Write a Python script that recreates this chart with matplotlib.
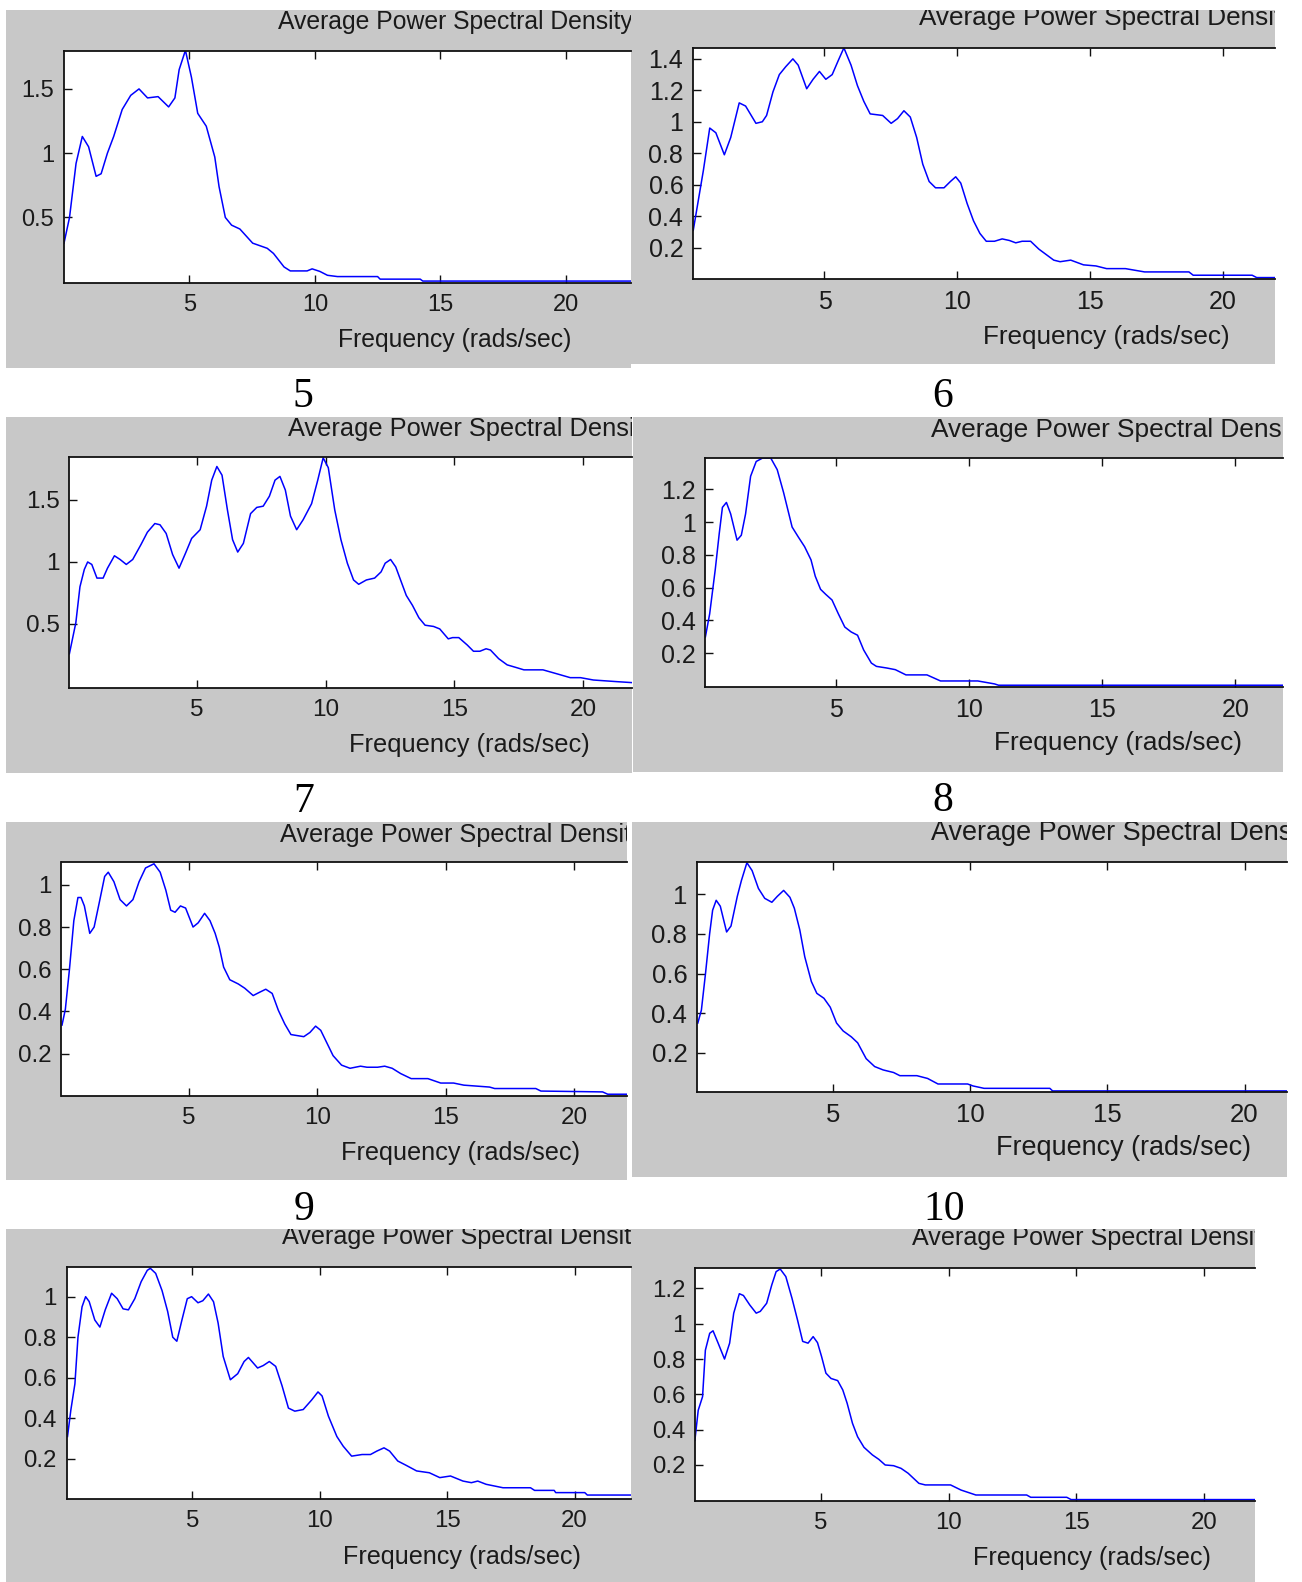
import matplotlib
matplotlib.use("Agg")
import matplotlib.pyplot as plt
from matplotlib.ticker import FixedLocator, FuncFormatter

# ---------------- data ----------------
freq_5 = [0, 0.22, 0.48, 0.73, 0.98, 1.28, 1.48, 1.73, 1.98, 2.32, 2.66, 2.99, 3.33, 3.75, 4.17, 4.42,
          4.59, 4.84, 5.08, 5.33, 5.67, 6.01, 6.18, 6.43, 6.68, 7.01, 7.52, 8.1, 8.35, 8.77, 9.02, 9.69,
          9.89, 10.2, 10.5, 10.9, 12.5, 12.6, 14.2, 14.3, 22.6]
psd_5 = [0.30, 0.50, 0.92, 1.13, 1.05, 0.82, 0.84, 1.0, 1.13, 1.34, 1.45, 1.50, 1.43, 1.44, 1.36, 1.43,
         1.65, 1.80, 1.59, 1.31, 1.21, 0.97, 0.74, 0.50, 0.44, 0.41, 0.30, 0.26, 0.22, 0.115, 0.084, 0.084,
         0.10, 0.08, 0.05, 0.04, 0.04, 0.02, 0.02, 0.005, 0.005]

freq_6 = [0.06, 0.17, 0.44, 0.68, 0.91, 1.23, 1.47, 1.79, 2.03, 2.42, 2.66, 2.82, 3.06, 3.30, 3.54, 3.81,
          4.01, 4.33, 4.57, 4.81, 5.05, 5.29, 5.52, 5.73, 6.00, 6.24, 6.48, 6.72, 7.19, 7.51, 7.75, 7.99,
          8.23, 8.47, 8.70, 8.94, 9.18, 9.50, 9.74, 9.94, 10.13, 10.37, 10.61, 10.85, 11.09, 11.40, 11.69,
          11.96, 12.20, 12.44, 12.76, 13.07, 13.31, 13.63, 13.87, 14.27, 14.75, 15.22, 15.62, 16.33, 17.05,
          18.72, 18.88, 21.1, 21.27, 21.96]
psd_6 = [0.31, 0.42, 0.69, 0.96, 0.93, 0.79, 0.90, 1.12, 1.10, 0.99, 1.0, 1.04, 1.19, 1.30, 1.35, 1.40,
         1.36, 1.21, 1.27, 1.32, 1.27, 1.30, 1.39, 1.47, 1.36, 1.23, 1.13, 1.05, 1.04, 0.99, 1.02, 1.07,
         1.03, 0.90, 0.73, 0.62, 0.58, 0.58, 0.62, 0.65, 0.61, 0.48, 0.37, 0.29, 0.24, 0.24, 0.255,
         0.245, 0.23, 0.24, 0.24, 0.19, 0.16, 0.12, 0.11, 0.12, 0.09, 0.083, 0.066, 0.066, 0.045,
         0.045, 0.024, 0.024, 0.009, 0.009]

freq_7 = [0.04, 0.29, 0.45, 0.62, 0.75, 0.91, 1.11, 1.35, 1.52, 1.79, 2.01, 2.25, 2.50, 2.82, 3.07, 3.36,
          3.56, 3.80, 4.05, 4.30, 4.55, 4.79, 5.12, 5.37, 5.57, 5.77, 5.97, 6.18, 6.38, 6.58, 6.80, 7.08,
          7.32, 7.57, 7.81, 8.03, 8.22, 8.43, 8.63, 8.87, 9.12, 9.45, 9.69, 9.90, 10.10, 10.35, 10.59,
          10.84, 11.08, 11.28, 11.58, 11.9, 12.15, 12.31, 12.52, 12.72, 12.88, 13.13, 13.37, 13.62, 13.86,
          14.19, 14.43, 14.76, 14.93, 15.17, 15.5, 15.74, 15.99, 16.23, 16.4, 16.72, 17.05, 17.38, 17.7,
          18.44, 19.0, 19.5, 19.9, 20.4, 21.3, 21.9]
psd_7 = [0.26, 0.51, 0.80, 0.94, 1.00, 0.98, 0.87, 0.87, 0.95, 1.05, 1.02, 0.98, 1.02, 1.14, 1.24, 1.31,
         1.30, 1.23, 1.06, 0.95, 1.07, 1.19, 1.26, 1.45, 1.66, 1.77, 1.70, 1.42, 1.18, 1.08, 1.15, 1.39,
         1.44, 1.45, 1.53, 1.66, 1.69, 1.58, 1.37, 1.26, 1.34, 1.47, 1.66, 1.84, 1.76, 1.42, 1.18,
         0.99, 0.855, 0.82, 0.855, 0.87, 0.92, 0.99, 1.02, 0.96, 0.87, 0.73, 0.65, 0.55, 0.49,
         0.48, 0.46, 0.38, 0.39, 0.39, 0.33, 0.28, 0.28, 0.30, 0.29, 0.22, 0.17, 0.15, 0.13,
         0.13, 0.097, 0.067, 0.067, 0.048, 0.035, 0.027]

freq_8 = [0.08, 0.24, 0.45, 0.60, 0.72, 0.87, 1.03, 1.27, 1.43, 1.59, 1.78, 1.99, 2.22, 2.54, 2.78, 3.02,
          3.34, 3.57, 3.81, 4.05, 4.21, 4.41, 4.60, 4.84, 5.08, 5.32, 5.56, 5.80, 6.03, 6.32, 6.51, 6.90,
          7.22, 7.62, 8.41, 8.92, 10.32, 10.95, 11.1, 21.78]
psd_8 = [0.30, 0.44, 0.71, 0.93, 1.09, 1.12, 1.05, 0.89, 0.92, 1.05, 1.28, 1.37, 1.39, 1.39, 1.32, 1.18,
         0.97, 0.91, 0.85, 0.77, 0.67, 0.59, 0.56, 0.525, 0.44, 0.36, 0.33, 0.31, 0.22, 0.14, 0.12, 0.11,
         0.10, 0.068, 0.068, 0.031, 0.031, 0.013, 0.005, 0.005]

freq_9 = [0.06, 0.19, 0.35, 0.52, 0.68, 0.80, 0.93, 1.14, 1.31, 1.50, 1.72, 1.86, 2.08, 2.32, 2.57, 2.82,
          3.06, 3.31, 3.64, 3.88, 4.10, 4.29, 4.46, 4.67, 4.87, 5.16, 5.36, 5.61, 5.82, 6.02, 6.18, 6.35,
          6.59, 6.92, 7.17, 7.5, 7.74, 7.99, 8.24, 8.48, 8.73, 8.97, 9.47, 9.71, 9.93, 10.13, 10.37,
          10.61, 10.94, 11.27, 11.68, 11.93, 12.34, 12.62, 12.91, 13.24, 13.65, 14.3, 14.8, 15.3, 15.7,
          16.7, 16.9, 18.5, 18.7, 21.1, 21.3, 22.05]
psd_9 = [0.335, 0.41, 0.60, 0.83, 0.94, 0.94, 0.90, 0.77, 0.80, 0.91, 1.04, 1.06, 1.015, 0.93, 0.90, 0.93,
         1.015, 1.08, 1.10, 1.06, 0.975, 0.88, 0.87, 0.90, 0.89, 0.80, 0.82, 0.865, 0.83, 0.77, 0.705, 0.61,
         0.55, 0.53, 0.51, 0.475, 0.49, 0.505, 0.485, 0.405, 0.34, 0.29, 0.28, 0.30, 0.33, 0.31, 0.25,
         0.19, 0.145, 0.13, 0.14, 0.135, 0.135, 0.14, 0.13, 0.105, 0.081, 0.081, 0.06, 0.06, 0.05,
         0.041, 0.034, 0.034, 0.022, 0.018, 0.007, 0.007]

freq_10 = [0.06, 0.19, 0.34, 0.49, 0.60, 0.73, 0.88, 1.11, 1.27, 1.50, 1.65, 1.85, 2.04, 2.27, 2.50, 2.76,
           2.96, 3.19, 3.42, 3.58, 3.78, 3.96, 4.20, 4.40, 4.66, 4.89, 5.12, 5.36, 5.66, 5.89, 6.2, 6.51,
           6.82, 7.2, 7.43, 8.05, 8.44, 8.82, 9.9, 10.1, 10.5, 12.9, 13.0, 21.55]
psd_10 = [0.35, 0.415, 0.60, 0.80, 0.92, 0.97, 0.94, 0.81, 0.84, 0.99, 1.07, 1.16, 1.12, 1.03, 0.98, 0.96,
          0.99, 1.02, 0.985, 0.93, 0.82, 0.685, 0.56, 0.50, 0.475, 0.43, 0.35, 0.31, 0.28, 0.25, 0.17, 0.13,
          0.113, 0.10, 0.084, 0.084, 0.07, 0.042, 0.042, 0.032, 0.02, 0.02, 0.007, 0.007]

freq_11 = [0.1, 0.23, 0.39, 0.51, 0.67, 0.81, 0.95, 1.17, 1.37, 1.58, 1.83, 2.05, 2.28, 2.49, 2.74, 2.99,
           3.23, 3.35, 3.56, 3.81, 4.03, 4.23, 4.39, 4.59, 4.80, 4.97, 5.22, 5.41, 5.63, 5.83, 6.01, 6.21,
           6.49, 6.78, 7.03, 7.2, 7.56, 7.78, 8.02, 8.27, 8.52, 8.77, 9.02, 9.35, 9.68, 9.93, 10.09, 10.34,
           10.67, 10.92, 11.25, 11.66, 11.99, 12.24, 12.52, 12.74, 13.06, 13.4, 13.8, 14.3, 14.71, 15.13,
           15.62, 15.95, 16.2, 16.53, 17.19, 18.27, 18.43, 19.2, 19.26, 20.4, 20.5, 22.23]
psd_11 = [0.31, 0.44, 0.57, 0.80, 0.95, 1.0, 0.976, 0.885, 0.85, 0.935, 1.017, 0.99, 0.94, 0.935, 0.99, 1.074,
          1.13, 1.14, 1.115, 1.03, 0.927, 0.80, 0.78, 0.885, 0.99, 1.0, 0.97, 0.98, 1.013, 0.975, 0.87, 0.705,
          0.59, 0.62, 0.68, 0.70, 0.648, 0.66, 0.68, 0.656, 0.56, 0.45, 0.435, 0.443, 0.49, 0.53, 0.51, 0.41,
          0.31, 0.262, 0.213, 0.221, 0.221, 0.238, 0.254, 0.238, 0.189, 0.167, 0.14, 0.131, 0.107, 0.115,
          0.09, 0.082, 0.09, 0.074, 0.057, 0.057, 0.044, 0.044, 0.033, 0.033, 0.021, 0.021]

freq_12 = [0.07, 0.2, 0.37, 0.48, 0.65, 0.78, 0.98, 1.23, 1.43, 1.59, 1.81, 1.97, 2.22, 2.47, 2.63, 2.88,
           3.08, 3.25, 3.41, 3.63, 3.87, 4.09, 4.29, 4.5, 4.7, 4.87, 5.03, 5.2, 5.4, 5.66, 5.86, 6.03, 6.24,
           6.44, 6.69, 7.02, 7.27, 7.52, 7.85, 8.14, 8.42, 8.84, 9.09, 10.08, 10.49, 11.07, 13.06, 13.22,
           14.63, 14.8, 22.0]
psd_12 = [0.34, 0.51, 0.587, 0.85, 0.946, 0.96, 0.89, 0.80, 0.89, 1.06, 1.17, 1.16, 1.106, 1.06, 1.07, 1.116,
          1.22, 1.295, 1.31, 1.267, 1.145, 1.02, 0.90, 0.89, 0.927, 0.893, 0.814, 0.72, 0.69, 0.678, 0.625,
          0.55, 0.436, 0.36, 0.30, 0.257, 0.232, 0.20, 0.196, 0.181, 0.153, 0.096, 0.087, 0.087, 0.058,
          0.03, 0.03, 0.017, 0.017, 0.004, 0.004]

x_ticks = [5, 10, 15, 20]
title_text = "Average Power Spectral Density"
xlabel_text = "Frequency (rads/sec)"
captions = ["5", "6", "7", "8", "9", "10"]

# ---------------- layout (pixel coordinates of the 1302x1582 image) ----------------
W, H = 1302, 1582
DPI = 100
GRAY = "#c8c8c8"

panels = [
    dict(f=freq_5, p=psd_5, gray=(6, 10, 631, 368), axes=(64, 51, 631, 283), xlim=(0, 22.6),
         ylim=(-0.01, 1.795), yt=[0.5, 1, 1.5], title=(278, 21.7), xl=(454.5, 340.5)),
    dict(f=freq_6, p=psd_6, gray=(631, 10, 1275, 364), axes=(693, 47.7, 1275, 279), xlim=(0.05, 21.96),
         ylim=(0, 1.471), yt=[0.2, 0.4, 0.6, 0.8, 1, 1.2, 1.4], title=(918.6, 18.3), xl=(1106, 336.7)),
    dict(f=freq_7, p=psd_7, gray=(6, 416.7, 632, 772.7), axes=(69.4, 456.7, 632, 687.7), xlim=(0.04, 21.9),
         ylim=(-0.014, 1.849), yt=[0.5, 1, 1.5], title=(288.3, 429.3), xl=(469.3, 745)),
    dict(f=freq_8, p=psd_8, gray=(633, 416.7, 1282.6, 771.7), axes=(705.4, 457.7, 1282.6, 686.7),
         xlim=(0.08, 21.78), ylim=(-0.004, 1.393), yt=[0.2, 0.4, 0.6, 0.8, 1, 1.2], title=(931.3, 430),
         xl=(1118, 743.3)),
    dict(f=freq_9, p=psd_9, gray=(6, 822.3, 627, 1180), axes=(61.5, 862.3, 627, 1095.7), xlim=(0.04, 22.05),
         ylim=(0, 1.107), yt=[0.2, 0.4, 0.6, 0.8, 1], title=(279.9, 835), xl=(460.5, 1153.3)),
    dict(f=freq_10, p=psd_10, gray=(632, 822.3, 1287, 1176.7), axes=(697, 862.3, 1287, 1092.3),
         xlim=(0.03, 21.55), ylim=(0, 1.162), yt=[0.2, 0.4, 0.6, 0.8, 1], title=(931.3, 833.3),
         xl=(1123.4, 1148.3)),
    dict(f=freq_11, p=psd_11, gray=(6, 1229, 631.4, 1582), axes=(66.5, 1267.3, 631.4, 1499.3),
         xlim=(0.06, 22.23), ylim=(0, 1.145), yt=[0.2, 0.4, 0.6, 0.8, 1], title=(282, 1236.7),
         xl=(462, 1556.7)),
    dict(f=freq_12, p=psd_12, gray=(631.4, 1229, 1255, 1582), axes=(694.9, 1268.3, 1255, 1501),
         xlim=(0.07, 22.0), ylim=(-0.004, 1.314), yt=[0.2, 0.4, 0.6, 0.8, 1, 1.2], title=(912.3, 1238.3),
         xl=(1091.8, 1558.3)),
]
caption_pos = [(303, 406.7), (942.7, 407), (304, 811.5), (942.7, 811), (304, 1220), (944, 1220.5)]

plt.rcParams["font.family"] = ["Liberation Sans", "DejaVu Sans"]

fig = plt.figure(figsize=(W / DPI, H / DPI), dpi=DPI)
fig.patch.set_facecolor("white")


def rect(x0, y0, x1, y1):
    return [x0 / W, 1 - y1 / H, (x1 - x0) / W, (y1 - y0) / H]


fmt = FuncFormatter(lambda v, pos: f"{v:g}")
BASE_SCALE = 25.1  # pixels per rad/s in the first screenshot

for pnl in panels:
    ax0, ay0, ax1, ay1 = pnl["axes"]
    sx = (ax1 - ax0) / (pnl["xlim"][1] - pnl["xlim"][0]) / BASE_SCALE

    gx0, gy0, gx1, gy1 = pnl["gray"]
    bg = fig.add_axes(rect(gx0, gy0, gx1, gy1), zorder=0)
    bg.set_facecolor(GRAY)
    bg.set_xlim(gx0, gx1)
    bg.set_ylim(gy1, gy0)
    bg.set_xticks([])
    bg.set_yticks([])
    for s in bg.spines.values():
        s.set_visible(False)
    bg.text(pnl["title"][0], pnl["title"][1], title_text, ha="left", va="center",
            fontsize=17.8 * sx, color="#1a1a1a", clip_on=True)
    bg.text(pnl["xl"][0], pnl["xl"][1], xlabel_text, ha="center", va="center",
            fontsize=17.8 * sx, color="#1a1a1a", clip_on=True)

    ax = fig.add_axes(rect(ax0, ay0, ax1, ay1), zorder=1)
    ax.set_facecolor("white")
    ax.plot(pnl["f"], pnl["p"], color="#0000ff", lw=1.1)
    ax.set_xlim(*pnl["xlim"])
    ax.set_ylim(*pnl["ylim"])
    ax.xaxis.set_major_locator(FixedLocator(x_ticks))
    ax.yaxis.set_major_locator(FixedLocator(pnl["yt"]))
    ax.xaxis.set_major_formatter(fmt)
    ax.yaxis.set_major_formatter(fmt)
    ax.spines["right"].set_visible(False)
    for s in ("left", "top", "bottom"):
        ax.spines[s].set_linewidth(1.3)
        ax.spines[s].set_color("#111111")
    ax.tick_params(axis="both", direction="in", length=5.5, width=1.0, colors="#111111",
                   labelsize=17 * sx, labelcolor="#1a1a1a")
    ax.tick_params(axis="x", top=True, pad=8)
    ax.tick_params(axis="y", right=False, pad=7)

for txt, (cx, cy) in zip(captions, caption_pos):
    fig.text(cx / W, 1 - cy / H, txt, ha="center", va="baseline", fontsize=30,
             family=["Liberation Serif", "DejaVu Serif"], color="black")

fig.savefig("out.png", dpi=DPI, facecolor="white")
